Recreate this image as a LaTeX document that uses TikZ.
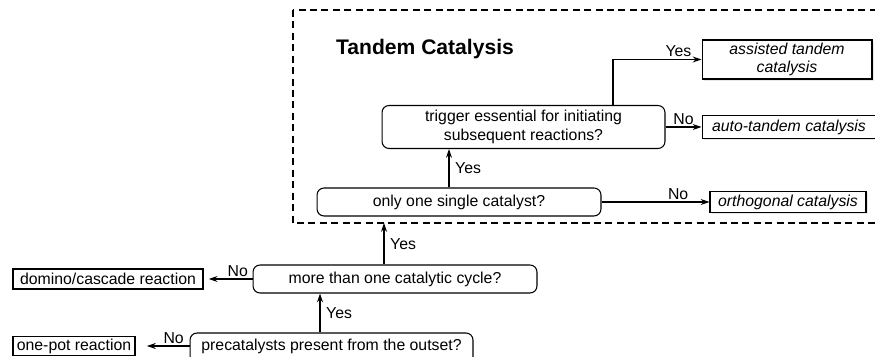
\documentclass[tikz,border=0pt]{standalone}
\usepackage{fontspec}
\setmainfont{Liberation Sans}
\usetikzlibrary{arrows.meta, shadows}

\tikzset{
  txt/.style={font=\fontsize{9}{11}\selectfont},
  decision/.style={txt, draw, rounded corners=4pt, line width=0.6pt, align=center, inner sep=1pt},
  outcome/.style={txt, draw, fill=white, line width=0.6pt, align=center, inner sep=1pt,
    font=\fontsize{9}{10.5}\selectfont\itshape,
    drop shadow={shadow xshift=1pt, shadow yshift=-1pt, opacity=0.18}},
  result/.style={txt, draw, line width=0.6pt, inner sep=1pt},
  yesarrow/.style={-{Stealth[length=5pt,width=3.4pt]}, line width=1pt},
  noarrow/.style={-{Stealth[length=5pt,width=3.4pt]}, line width=0.6pt},
  lbl/.style={txt, inner sep=1pt},
  frame/.style={line width=1pt, dash pattern=on 4pt off 2.5pt},
}

\begin{document}
\begin{tikzpicture}[x=0.02cm, y=-0.02cm]
  \useasboundingbox (0,0) rectangle (875,357);
  \clip (0,0) rectangle (875,357);

  % tandem catalysis region
  \draw[frame] (293,10) rectangle (880,223);
  \node[font=\fontsize{12}{14}\selectfont\bfseries] (head) at (425,49) {Tandem Catalysis};

  % questions
  \node[decision, minimum width=5.66cm, minimum height=0.66cm, text depth=0.18cm] (precat) at (331.5,349.5) {precatalysts present from the outset?};
  \node[decision, minimum width=5.68cm, minimum height=0.56cm] (more) at (395,279) {more than one catalytic cycle?};
  \node[decision, minimum width=5.68cm, minimum height=0.56cm] (single) at (459,202) {only one single catalyst?};
  \node[decision, minimum width=5.66cm, minimum height=0.86cm] (trigger) at (523.5,127) {trigger essential for initiating\\subsequent reactions?};

  % answers
  \node[outcome, minimum width=3.4cm, minimum height=0.78cm] (assisted) at (787,59.5) {assisted tandem\\catalysis};
  \node[outcome, minimum width=3.48cm, minimum height=0.46cm] (auto) at (789,127) {auto-tandem catalysis};
  \node[outcome, minimum width=3.12cm, minimum height=0.42cm] (ortho) at (788,202) {orthogonal catalysis};
  \node[result, minimum width=3.8cm, minimum height=0.4cm] (domino) at (108,279) {domino/cascade reaction};
  \node[result, minimum width=2.44cm, minimum height=0.36cm] (onepot) at (74,346) {one-pot reaction};

  % arrow columns
  \coordinate (c1) at (320,0);
  \coordinate (tcin) at (384,223);
  \coordinate (c3) at (449,0);
  \coordinate (c4) at (613,0);
  \coordinate (pl) at (190,346);

  \draw[yesarrow] (precat.north -| c1) -- node[lbl, right, xshift=2pt] {Yes} (more.south -| c1);
  \draw[yesarrow] (more.north -| tcin) -- node[lbl, right, xshift=2pt] {Yes} (tcin);
  \draw[yesarrow] (single.north -| c3) -- node[lbl, right, xshift=2pt] {Yes} (trigger.south -| c3);
  \draw[yesarrow] (trigger.north -| c4) |- node[lbl, above, pos=0.87] {Yes} (assisted.west);

  \draw[noarrow] (trigger.east) -- node[lbl, above] {No} (auto.west);
  \draw[noarrow] (single.east) -- node[lbl, above, pos=0.71] {No} (ortho.west);
  \draw[noarrow, shorten >=3pt] (more.west) -- node[lbl, above, pos=0.3] {No} (domino.east);
  \draw[noarrow, shorten >=6.5pt] (pl) -- node[lbl, above, pos=0.3] {No} (onepot.east);
\end{tikzpicture}
\end{document}
